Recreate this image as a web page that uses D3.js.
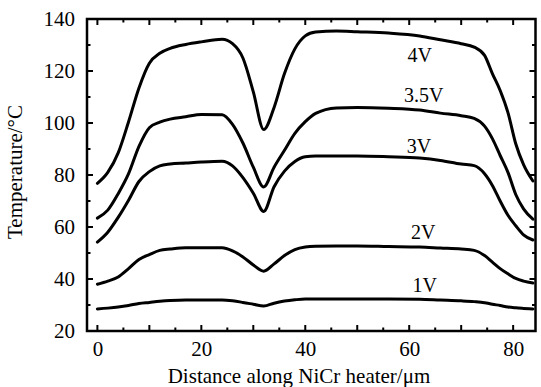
<!DOCTYPE html>
<html>
<head>
<meta charset="utf-8">
<script src="https://cdn.jsdelivr.net/npm/d3@7"></script>
<style>
  body { margin: 0; background: #fff; }
</style>
</head>
<body>
<svg id="chart" width="541" height="387"></svg>
<script>
// positions along the heater (um)
const distance = [0, 2, 4, 6, 8, 10, 12, 14, 17, 20, 24, 26, 28, 30, 32, 34, 36, 38, 40, 42, 46, 50, 56, 62, 66, 70, 72.5, 74.5, 76, 77.5, 79, 80.5, 82, 83.8];

const temp4V  = [76.8, 81, 88.5, 100.5, 113.5, 123, 126.8, 128.7, 130.2, 131.2, 132.2, 130.5, 125, 112, 97.5, 106, 119, 128.5, 133.5, 135, 135.4, 135.1, 134.6, 133.5, 132, 130.5, 129.2, 126, 119, 112.5, 104, 92, 84, 77.7];
const temp35V = [63.4, 66.5, 72.8, 80.5, 91, 98.2, 100.3, 101.5, 102.4, 103.3, 103.2, 99.5, 92.3, 83, 75.4, 83, 89.5, 96, 100.5, 103.7, 105.8, 106, 105.7, 105, 103.8, 102.8, 101.8, 98.8, 94, 87.5, 81, 72.5, 67, 63];
const temp3V  = [54.2, 58, 63.7, 70.3, 77.5, 81.3, 83.5, 84.2, 84.6, 85, 85.3, 83.5, 79, 73, 66, 75.5, 81.5, 85.2, 87, 87.3, 87.3, 87.3, 87, 86.5, 85.6, 84.2, 83.6, 80.5, 76, 70, 64.5, 60.5, 57, 55];
const temp2V  = [38, 39.2, 40.8, 44, 47.5, 49.4, 51, 51.5, 52, 52, 52, 50.8, 48.5, 45.4, 43, 45.8, 49, 51.3, 52.3, 52.6, 52.7, 52.7, 52.5, 52.3, 51.9, 51.5, 51, 49, 46.5, 44, 42, 40.2, 39.2, 38.5];
const temp1V  = [28.5, 28.8, 29.2, 29.8, 30.6, 31, 31.4, 31.7, 31.9, 31.9, 31.9, 31.6, 31, 30.3, 29.6, 30.7, 31.5, 32, 32.3, 32.3, 32.3, 32.3, 32.3, 32.2, 31.9, 31.6, 31.3, 30.9, 30.3, 29.8, 29.2, 28.9, 28.7, 28.5];

const seriesNames = ["4V", "3.5V", "3V", "2V", "1V"];
const seriesValues = [temp4V, temp35V, temp3V, temp2V, temp1V];
// where each voltage label sits, in data units
const labelX = [62.0, 62.8, 61.9, 62.7, 63.0];
const labelT = [123.5, 108.1, 88.5, 55.4, 35.0];

const xLabels = [0, 20, 40, 60, 80];
const yLabels = [20, 40, 60, 80, 100, 120, 140];

const svg = d3.select("#chart");
const plotL = 87, plotR = 535.5, plotT = 19, plotB = 331;
const serif = "Liberation Serif";

const x = d3.scaleLinear().domain([-2, 84.3]).range([plotL, plotR]);
const y = d3.scaleLinear().domain([20, 140]).range([plotB, plotT]);

// tick labels
const gx = svg.append("g")
  .attr("transform", `translate(0,${plotB})`)
  .call(d3.axisBottom(x).tickValues(xLabels).tickSize(0).tickPadding(10));
gx.select(".domain").remove();
gx.selectAll("text")
  .style("font-family", serif).style("font-size", "21px").attr("fill", "#000");

const gy = svg.append("g")
  .attr("transform", `translate(${plotL},0)`)
  .call(d3.axisLeft(y).tickValues(yLabels).tickSize(0).tickPadding(12));
gy.select(".domain").remove();
gy.selectAll("text")
  .style("font-family", serif).style("font-size", "21px").attr("fill", "#000");

// inward ticks on all four sides
const xTicks = d3.range(0, 85, 5);
const yTicks = d3.range(20, 141, 10);
const ticks = svg.append("g").attr("stroke", "#000").attr("stroke-width", 2);

ticks.selectAll("line.xb").data(xTicks).join("line")
  .attr("class", "xb")
  .attr("x1", d => x(d)).attr("x2", d => x(d))
  .attr("y1", plotB).attr("y2", d => plotB - (d % 10 === 0 ? 6 : 3.5));
ticks.selectAll("line.xt").data(xTicks).join("line")
  .attr("class", "xt")
  .attr("x1", d => x(d)).attr("x2", d => x(d))
  .attr("y1", plotT).attr("y2", d => plotT + (d % 10 === 0 ? 6 : 3.5));
ticks.selectAll("line.yl").data(yTicks).join("line")
  .attr("class", "yl")
  .attr("y1", d => y(d)).attr("y2", d => y(d))
  .attr("x1", plotL).attr("x2", d => plotL + (d % 20 === 0 ? 6 : 3.5));
ticks.selectAll("line.yr").data(yTicks).join("line")
  .attr("class", "yr")
  .attr("y1", d => y(d)).attr("y2", d => y(d))
  .attr("x1", plotR).attr("x2", d => plotR - (d % 20 === 0 ? 6 : 3.5));

// frame
svg.append("rect")
  .attr("x", plotL).attr("y", plotT)
  .attr("width", plotR - plotL).attr("height", plotB - plotT)
  .attr("fill", "none").attr("stroke", "#000").attr("stroke-width", 2.5);

// curves
const line = d3.line()
  .x((d, i) => x(distance[i]))
  .y(d => y(d))
  .curve(d3.curveMonotoneX);

svg.append("g").selectAll("path")
  .data(seriesValues)
  .join("path")
  .attr("d", line)
  .attr("fill", "none")
  .attr("stroke", "#000")
  .attr("stroke-width", 3)
  .attr("stroke-linejoin", "round")
  .attr("stroke-linecap", "round");

svg.append("g").selectAll("text")
  .data(seriesNames)
  .join("text")
  .attr("x", (d, i) => x(labelX[i]))
  .attr("y", (d, i) => y(labelT[i]))
  .attr("text-anchor", "middle")
  .style("font-family", serif).style("font-size", "20px")
  .text(d => d);

// axis titles
svg.append("text")
  .attr("x", 299).attr("y", 383)
  .attr("text-anchor", "middle")
  .style("font-family", serif).style("font-size", "21px")
  .text("Distance along NiCr heater/μm");

svg.append("text")
  .attr("transform", `translate(22,${(plotT + plotB) / 2 - 3}) rotate(-90)`)
  .attr("text-anchor", "middle")
  .style("font-family", serif).style("font-size", "21px")
  .text("Temperature/°C");
</script>
</body>
</html>
